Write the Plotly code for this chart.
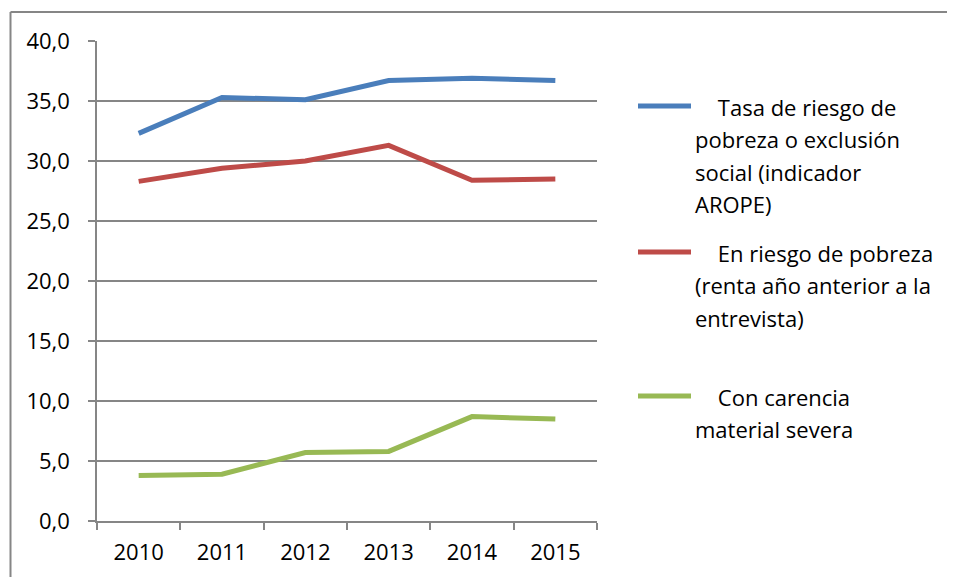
import plotly.graph_objects as go

years = ["2010", "2011", "2012", "2013", "2014", "2015"]
arope = [32.3, 35.3, 35.1, 36.7, 36.9, 36.7]
pobreza = [28.3, 29.4, 30.0, 31.3, 28.4, 28.5]
carencia = [3.8, 3.9, 5.7, 5.8, 8.7, 8.5]

names = [
    ["   Tasa de riesgo de", "pobreza o exclusión", "social (indicador", "AROPE)"],
    ["   En riesgo de pobreza", "(renta año anterior a la", "entrevista)"],
    ["   Con carencia", "material severa"],
]
colors = ["#4A7EBB", "#BE4B48", "#98B954"]
series = [arope, pobreza, carencia]

FONT = "Open Sans"
OFF = 8  # page body margin
W, H = 955 - OFF, 577 - OFF
L, T = 97 - OFF, 41 - OFF
PW, PH = 500, 480
R, B = W - L - PW, H - T - PH

def px(x):
    return (x - OFF - L) / PW

def py(y):
    return (T + PH - (y - OFF)) / PH

fig = go.Figure()
for vals, nm, c in zip(series, names, colors):
    fig.add_trace(go.Scatter(x=years, y=vals, mode="lines", name=" ".join(nm).strip(),
                             line=dict(color=c, width=5), showlegend=False))

shapes = []
annotations = []
leg_y = [106, 252, 396]
for i, (nm, c) in enumerate(zip(names, colors)):
    y0 = leg_y[i]
    shapes.append(dict(type="line", xref="paper", yref="paper",
                       x0=px(638), x1=px(691), y0=py(y0), y1=py(y0),
                       line=dict(color=c, width=5)))
    for j, t in enumerate(nm):
        annotations.append(dict(xref="paper", yref="paper", x=px(693), y=py(y0 + 1 + j * 32.3),
                                text=t.replace("   ", "&nbsp;&nbsp;&nbsp;&nbsp;"), showarrow=False,
                                xanchor="left", yanchor="middle",
                                font=dict(family=FONT, size=22, color="#000000")))

shapes.append(dict(type="line", xref="paper", yref="paper", x0=px(10.5), x1=px(960),
                   y0=py(12), y1=py(12), line=dict(color="#868686", width=2)))
shapes.append(dict(type="line", xref="paper", yref="paper", x0=px(10.5), x1=px(10.5),
                   y0=py(12), y1=py(590), line=dict(color="#868686", width=2)))

fig.update_layout(
    width=W, height=H,
    margin=dict(l=L, r=R, t=T, b=B, pad=0),
    paper_bgcolor="white", plot_bgcolor="white",
    separators=", ",
    font=dict(family=FONT, size=22, color="#000000"),
    shapes=shapes, annotations=annotations,
    xaxis=dict(type="category", range=[-0.5, 5.5], showgrid=False,
               showline=True, linecolor="#868686", linewidth=1.5,
               ticks="outside", ticklen=7, tickcolor="#868686", tickwidth=1.5,
               tickson="boundaries", ticklabelstandoff=11,
               tickfont=dict(family=FONT, size=22)),
    yaxis=dict(range=[0, 40], dtick=5, tickformat=".1f",
               showgrid=True, gridcolor="#868686", gridwidth=1.5,
               showline=True, linecolor="#868686", linewidth=1.5,
               ticks="outside", ticklen=7, tickcolor="#868686", tickwidth=1.5,
               ticklabelstandoff=14, zeroline=False,
               tickfont=dict(family=FONT, size=22)),
)

fig.write_html("out.html")
